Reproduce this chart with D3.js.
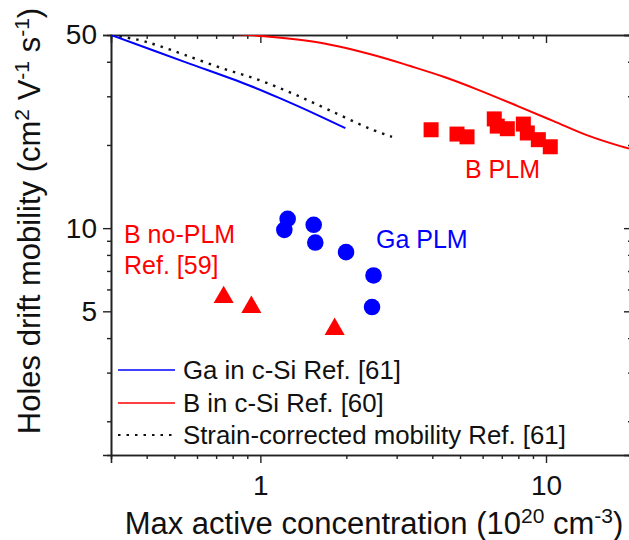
<!DOCTYPE html>
<html><head><meta charset="utf-8">
<script src="https://cdn.jsdelivr.net/npm/d3@7"></script>
<style>body{margin:0;background:#fff;} text{font-family:"Liberation Sans",Arial,sans-serif;}</style>
</head><body>
<svg id="c" width="629" height="540"></svg>
<script>
// ---- data ----
const xMajorTicks = [1, 10];
const xMajorLabels = ["1", "10"];
const xMinorTicks = [0.4,0.5,0.6,0.7,0.8,0.9,2,3,4,5,6,7,8,9];
const yMajorTicks = [5, 10, 50];
const yMajorLabels = ["5", "10", "50"];
const yMinorTicks = [2,3,4,6,7,8,9,20,30,40];

const gaLineX = [0.3, 0.546, 0.910, 1.207, 1.579, 1.984];
const gaLineY = [50, 39.9, 32.9, 29.1, 25.7, 23.0];
const bLineX = [0.6, 1.0, 1.62, 2.56, 3.35, 4.38, 5.73, 8.0, 10.63, 13.9, 18.2, 20];
const bLineY = [51.5, 49.6, 46.9, 42.0, 38.6, 35.3, 31.8, 27.6, 24.4, 21.7, 19.8, 19.3];
const strainX = [0.3, 0.375, 0.441, 0.546, 0.734, 0.986, 1.308, 1.734, 2.393, 2.89];
const strainY = [50, 48.0, 45.7, 42.3, 37.9, 34.4, 30.6, 26.8, 23.0, 21.4];

const bPlmX = [3.96, 4.88, 5.29, 6.59, 6.75, 7.32, 8.33, 8.60, 9.40, 10.35];
const bPlmY = [22.7, 21.9, 21.4, 24.85, 23.4, 22.9, 23.8, 22.1, 20.9, 19.7];
const gaPlmX = [1.246, 1.213, 1.537, 1.557, 1.995, 2.49, 2.46];
const gaPlmY = [10.8, 9.86, 10.28, 8.87, 8.19, 6.74, 5.18];
const bNoPlmX = [0.744, 0.93, 1.82];
const bNoPlmY = [5.62, 5.18, 4.31];

const legendLabels = ["Ga in c-Si Ref. [61]", "B in c-Si Ref. [60]", "Strain-corrected mobility Ref. [61]"];

// ---- layout ----
const L = 111, T = 35, B = 455, R = 632;
const svg = d3.select("#c");
const x = d3.scaleLog().domain([0.3, 20]).range([L, R]);
const y = d3.scaleLog().domain([1.51, 50]).range([B, T]);
const axisColor = "#222";

svg.append("defs").append("clipPath").attr("id","clip")
  .append("rect").attr("x",L).attr("y",T).attr("width",R-L).attr("height",B-T);

function styleAxis(g){
  g.select(".domain").attr("stroke",axisColor).attr("stroke-width",1.6);
  g.selectAll(".tick line").attr("stroke",axisColor).attr("stroke-width",1.4);
  g.selectAll("text").attr("fill","#111").attr("font-size",28).attr("font-family","'Liberation Sans',Arial,sans-serif");
}
// bottom
svg.append("g").attr("transform",`translate(0,${B})`)
  .call(d3.axisBottom(x).tickValues(xMajorTicks).tickSize(8).tickPadding(12).tickFormat((d,i)=>xMajorLabels[i]))
  .call(styleAxis);
svg.append("g").attr("transform",`translate(0,${B})`)
  .call(d3.axisBottom(x).tickValues(xMinorTicks).tickSize(4).tickFormat(""))
  .call(styleAxis);
// top (inward)
svg.append("g").attr("transform",`translate(0,${T})`)
  .call(d3.axisTop(x).tickValues(xMajorTicks).tickSize(-8).tickFormat(""))
  .call(styleAxis);
svg.append("g").attr("transform",`translate(0,${T})`)
  .call(d3.axisTop(x).tickValues(xMinorTicks).tickSize(-4).tickFormat(""))
  .call(styleAxis);
// left
svg.append("g").attr("transform",`translate(${L},0)`)
  .call(d3.axisLeft(y).tickValues(yMajorTicks).tickSize(8).tickPadding(6).tickFormat((d,i)=>yMajorLabels[i]))
  .call(styleAxis);
svg.append("g").attr("transform",`translate(${L},0)`)
  .call(d3.axisLeft(y).tickValues(yMinorTicks).tickSize(4).tickFormat(""))
  .call(styleAxis);
// right (inward)
svg.append("g").attr("transform",`translate(${R},0)`)
  .call(d3.axisRight(y).tickValues(yMajorTicks).tickSize(-8).tickFormat(""))
  .call(styleAxis);
svg.append("g").attr("transform",`translate(${R},0)`)
  .call(d3.axisRight(y).tickValues(yMinorTicks).tickSize(-4).tickFormat(""))
  .call(styleAxis);

// ---- lines ----
const plot = svg.append("g").attr("clip-path","url(#clip)");
const line = d3.line().x(d=>x(d[0])).y(d=>y(d[1])).curve(d3.curveCatmullRom.alpha(0.5));
plot.append("path").datum(bLineX.map((v,i)=>[v,bLineY[i]]))
  .attr("d",line).attr("fill","none").attr("stroke","#ff0000").attr("stroke-width",2);
plot.append("path").datum(strainX.map((v,i)=>[v,strainY[i]]))
  .attr("d",line).attr("fill","none").attr("stroke","#111").attr("stroke-width",2.4)
  .attr("stroke-dasharray","2.5,6");
plot.append("path").datum(gaLineX.map((v,i)=>[v,gaLineY[i]]))
  .attr("d",line).attr("fill","none").attr("stroke","#0000ff").attr("stroke-width",2);

// ---- markers ----
const sq = 15;
plot.selectAll(".sq").data(bPlmX.map((v,i)=>[v,bPlmY[i]])).enter().append("rect")
  .attr("x",d=>x(d[0])-sq/2).attr("y",d=>y(d[1])-sq/2).attr("width",sq).attr("height",sq)
  .attr("fill","#ff0000");
plot.selectAll(".ci").data(gaPlmX.map((v,i)=>[v,gaPlmY[i]])).enter().append("circle")
  .attr("cx",d=>x(d[0])).attr("cy",d=>y(d[1])).attr("r",8.3).attr("fill","#0000ff");
const tri = d3.symbol().type(d3.symbolTriangle).size(175);
plot.selectAll(".tr").data(bNoPlmX.map((v,i)=>[v,bNoPlmY[i]])).enter().append("path")
  .attr("d",tri).attr("transform",d=>`translate(${x(d[0])},${y(d[1])})`).attr("fill","#ff0000");

// ---- annotations ----
const ann = [
  {t:"B no-PLM", x:124, y:243, c:"#ff0000"},
  {t:"Ref. [59]", x:124, y:274, c:"#ff0000"},
  {t:"Ga PLM", x:376, y:248, c:"#0000ff"},
  {t:"B PLM", x:465, y:178, c:"#ff0000"}
];
svg.selectAll(".ann").data(ann).enter().append("text")
  .attr("x",d=>d.x).attr("y",d=>d.y).attr("fill",d=>d.c).attr("font-size",25).text(d=>d.t);

// ---- legend ----
const legY = [370, 403, 435];
const legColors = ["#0000ff","#ff0000","#111"];
const legDash = [null, null, "2.5,6"];
legendLabels.forEach((lab,i)=>{
  svg.append("line").attr("x1",118).attr("x2",175).attr("y1",legY[i]).attr("y2",legY[i])
    .attr("stroke",legColors[i]).attr("stroke-width",i==2?2:1.6).attr("stroke-dasharray",legDash[i]);
  svg.append("text").attr("x",183).attr("y",legY[i]+9).attr("font-size",25.8).attr("fill","#111").text(lab);
});

// ---- axis titles ----
const xt = svg.append("text").attr("x",374).attr("y",534).attr("text-anchor","middle")
  .attr("font-size",31).attr("fill","#111");
xt.append("tspan").text("Max active concentration (10");
xt.append("tspan").attr("font-size",21).attr("dy",-11).text("20");
xt.append("tspan").attr("dy",11).text(" cm");
xt.append("tspan").attr("font-size",21).attr("dy",-11).text("-3");
xt.append("tspan").attr("dy",11).text(")");

const yt = svg.append("text").attr("transform","translate(40,221) rotate(-90)").attr("text-anchor","middle")
  .attr("font-size",31).attr("fill","#111");
yt.append("tspan").text("Holes drift mobility (cm");
yt.append("tspan").attr("font-size",21).attr("dy",-11).text("2");
yt.append("tspan").attr("dy",11).text(" V");
yt.append("tspan").attr("font-size",21).attr("dy",-11).text("-1");
yt.append("tspan").attr("dy",11).text(" s");
yt.append("tspan").attr("font-size",21).attr("dy",-11).text("-1");
yt.append("tspan").attr("dy",11).text(")");
</script>
</body></html>
